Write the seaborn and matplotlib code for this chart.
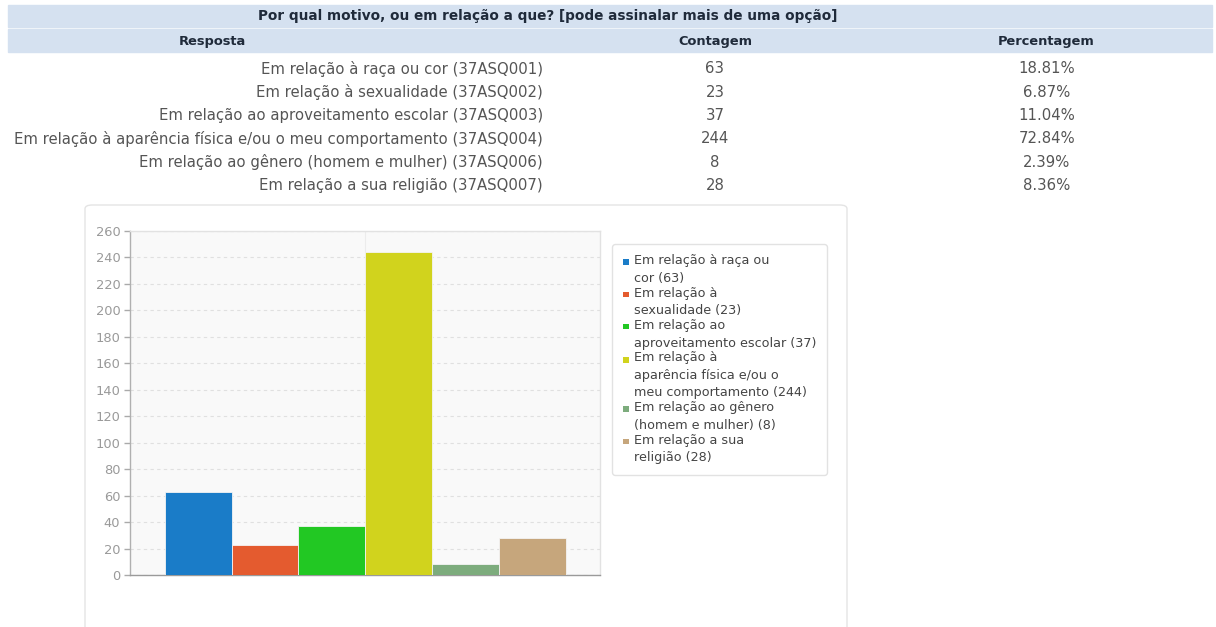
import matplotlib
matplotlib.use("Agg")  # headless
import matplotlib.pyplot as plt
import seaborn as sns
from matplotlib.legend_handler import HandlerPatch
from matplotlib.patches import FancyBboxPatch, Patch, Rectangle

# ---------------------------------------------------------------------------
# Data
# ---------------------------------------------------------------------------
PERGUNTA = "Por qual motivo, ou em relação a que? [pode assinalar mais de uma opção]"
CABECALHO = ["Resposta", "Contagem", "Percentagem"]

RESPOSTAS = [
    "Em relação à raça ou cor (37ASQ001)",
    "Em relação à sexualidade (37ASQ002)",
    "Em relação ao aproveitamento escolar (37ASQ003)",
    "Em relação à aparência física e/ou o meu comportamento (37ASQ004)",
    "Em relação ao gênero (homem e mulher) (37ASQ006)",
    "Em relação a sua religião (37ASQ007)",
]
CODIGOS = ["37ASQ001", "37ASQ002", "37ASQ003", "37ASQ004", "37ASQ006", "37ASQ007"]
CONTAGEM = [63, 23, 37, 244, 8, 28]
PERCENTAGEM = ["18.81%", "6.87%", "11.04%", "72.84%", "2.39%", "8.36%"]

# legend text, already wrapped like the original
LEGENDA = [
    "Em relação à raça ou\ncor",
    "Em relação à\nsexualidade",
    "Em relação ao\naproveitamento escolar",
    "Em relação à\naparência física e/ou o\nmeu comportamento",
    "Em relação ao gênero\n(homem e mulher)",
    "Em relação a sua\nreligião",
]
CORES = ["#1a7cc8", "#e45b2f", "#22c823", "#d1d31d", "#7dac7d", "#c6a67c"]
Y_TICKS = list(range(0, 261, 20))

# ---------------------------------------------------------------------------
# Layout helpers (pixel -> figure fraction)
# ---------------------------------------------------------------------------
W, H = 1216, 627
LS = 1.45  # legend line spacing


def fx(px):
    return px / W


def fy(py):
    return 1 - py / H


def square_marker(legend, orig_handle, xdescent, ydescent, width, height, fontsize):
    """Small square aligned with the first line of a multi-line label."""
    extra = orig_handle.get_label().count("\n")
    off = extra * 0.5 * 0.87 * LS * fontsize
    s = 0.42 * fontsize
    return Rectangle((-xdescent + width / 2 - s / 2,
                      -ydescent + height / 2 - s / 2 + off), s, s)


sns.set_theme(style="white")
plt.rcParams["font.family"] = ["DejaVu Sans"]

fig = plt.figure(figsize=(W / 100, H / 100), dpi=100)
fig.patch.set_facecolor("white")

# ---------------------------------------------------------------------------
# Table on top
# ---------------------------------------------------------------------------
band = "#d5e1f0"
fig.add_artist(Rectangle((fx(8), fy(27)), fx(1212) - fx(8), 22 / H,
                         transform=fig.transFigure, color=band, zorder=0))
fig.add_artist(Rectangle((fx(8), fy(52)), fx(1212) - fx(8), 23 / H,
                         transform=fig.transFigure, color=band, zorder=0))
fig.text(fx(548), fy(16), PERGUNTA, ha="center", va="center",
         fontsize=9.8, fontweight="bold", color="#1f2a3a")
for label, x in zip(CABECALHO, [212, 715, 1046]):
    fig.text(fx(x), fy(41), label, ha="center", va="center",
             fontsize=9.4, fontweight="bold", color="#1f2a3a")

for i, (resp, cnt, pct) in enumerate(zip(RESPOSTAS, CONTAGEM, PERCENTAGEM)):
    y = fy(68.7 + 23.4 * i)
    fig.text(fx(543), y, resp, ha="right", va="center", fontsize=10.7, color="#555555")
    fig.text(fx(715), y, str(cnt), ha="center", va="center", fontsize=10.7, color="#555555")
    fig.text(fx(1047), y, pct, ha="center", va="center", fontsize=10.7, color="#555555")

# chart container
fig.add_artist(FancyBboxPatch((fx(85), fy(660)), fx(847) - fx(85), (660 - 205) / H,
                              boxstyle="round,pad=0,rounding_size=0.006",
                              transform=fig.transFigure, facecolor="white",
                              edgecolor="#e4e4e4", linewidth=1, zorder=0))

# ---------------------------------------------------------------------------
# Bar chart
# ---------------------------------------------------------------------------
ax = fig.add_axes([fx(130), fy(575), (600 - 130) / W, (575 - 231) / H])
ax.set_facecolor("#f9f9f9")

sns.barplot(x=CODIGOS, y=CONTAGEM, hue=CODIGOS, palette=CORES, width=1,
            saturation=1, legend=False, edgecolor="#f4f4f4", linewidth=0.6,
            ax=ax, zorder=3)

n = len(CONTAGEM)
ax.set_xlim(-0.5 - 0.52, n - 0.5 + 0.51)
ax.set_ylim(Y_TICKS[0], Y_TICKS[-1])
ax.set_yticks(Y_TICKS)
ax.set_xticks([(n - 1) / 2])
ax.set_xticklabels([])
ax.set_xlabel("")
ax.set_ylabel("")
ax.tick_params(axis="x", length=0)
ax.tick_params(axis="y", length=4, width=1, color="#aaaaaa", labelcolor="#9a9a9a",
               labelsize=9.4, pad=3, left=True)
ax.grid(axis="y", linestyle=(0, (3, 3)), color="#e0e0e0", linewidth=0.8)
ax.grid(axis="x", color="#ececec", linewidth=0.8)
ax.set_axisbelow(True)

for side, col in [("left", "#b0b0b0"), ("bottom", "#9a9a9a"),
                  ("top", "#e2e2e2"), ("right", "#e2e2e2")]:
    ax.spines[side].set_visible(True)
    ax.spines[side].set_color(col)
    ax.spines[side].set_linewidth(1)

# legend
handles = [Patch(facecolor=c, edgecolor="none", label=f"{lbl} ({cnt})")
           for c, lbl, cnt in zip(CORES, LEGENDA, CONTAGEM)]
leg = ax.legend(handles=handles, loc="upper left",
                bbox_to_anchor=(fx(612), fy(244)), bbox_transform=fig.transFigure,
                fontsize=9.2, frameon=True, fancybox=True, framealpha=1,
                edgecolor="#e2e2e2", handlelength=0.6, handleheight=0.7,
                handletextpad=0.35, borderpad=0.8, labelspacing=0.15,
                borderaxespad=0,
                handler_map={Patch: HandlerPatch(patch_func=square_marker)})
leg.get_frame().set_linewidth(1)
for t in leg.get_texts():
    t.set_linespacing(LS)
    t.set_color("#444444")

fig.savefig("out.png", dpi=100, facecolor="white")
plt.close(fig)
